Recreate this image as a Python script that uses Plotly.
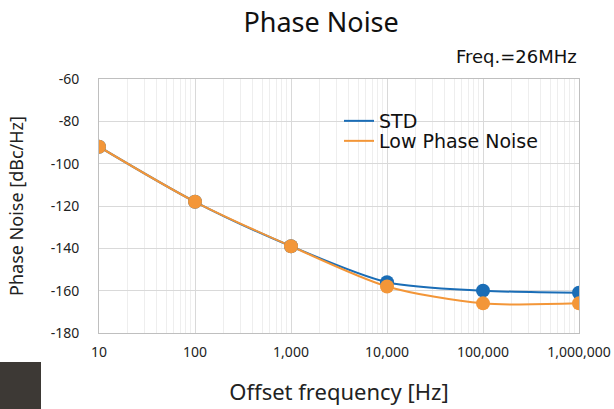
import plotly.graph_objects as go

freq = [10, 100, 1000, 10000, 100000, 1000000]
std_noise = [-92, -118, -139, -156, -160, -161]
low_noise = [-92, -118, -139, -158, -166, -166]
x_ticks = [10, 100, 1000, 10000, 100000, 1000000]
x_tick_labels = ["10", "100", "1,000", "10,000", "100,000", "1,000,000"]
y_ticks = [-60, -80, -100, -120, -140, -160, -180]
y_tick_labels = ["-60", "-80", "-100", "-120", "-140", "-160", "-180"]

BLUE = "#1a6db6"
ORANGE = "#f39638"
FONT = "Noto Sans"

fig = go.Figure()
for name, vals, col, lg in [("STD", std_noise, BLUE, "legend"),
                            ("Low Phase Noise", low_noise, ORANGE, "legend2")]:
    fig.add_trace(go.Scatter(x=freq, y=vals, mode="lines", name=name, legend=lg,
                             line=dict(color=col, width=2, shape="spline", smoothing=0.8)))
for vals, col in [(std_noise, BLUE), (low_noise, ORANGE)]:
    fig.add_trace(go.Scatter(x=freq, y=vals, mode="markers", showlegend=False,
                             marker=dict(color=col, size=14)))

leg_common = dict(x=0.50, xanchor="left", yanchor="middle", bgcolor="rgba(0,0,0,0)",
                  font=dict(size=19, family="DejaVu Sans", color="#111"), itemwidth=30)
fig.update_layout(
    width=614, height=409,
    margin=dict(l=99, r=35, t=79, b=76, autoexpand=False),
    paper_bgcolor="white", plot_bgcolor="white",
    font=dict(family=FONT, color="#222"),
    title=dict(text="Phase Noise", x=0.523, xanchor="center", y=0.945, yanchor="middle",
               font=dict(size=27, family=FONT, color="#111")),
    legend=dict(y=1 - (121 - 79) / 254, **leg_common),
    legend2=dict(y=1 - (141 - 79) / 254, **leg_common),
    showlegend=True,
)
fig.update_xaxes(type="log", range=[1, 6], tickvals=x_ticks, ticktext=x_tick_labels,
                 showgrid=True, gridcolor="#d9d9d9", gridwidth=1,
                 minor=dict(showgrid=True, gridcolor="#eeeeee", dtick="D1"),
                 showline=True, linecolor="#bfbfbf", linewidth=1, mirror=True,
                 ticks="", tickfont=dict(size=14, color="#222"), ticklabelstandoff=6,
                 automargin=False,
                 title=dict(text="Offset frequency [Hz]", font=dict(size=22, color="#222"), standoff=24),
                 zeroline=False)
fig.update_yaxes(range=[-180, -60], tickvals=y_ticks, ticktext=y_tick_labels, showgrid=True,
                 gridcolor="#d9d9d9",
                 showline=True, linecolor="#bfbfbf", linewidth=1, mirror=True,
                 ticks="", tickfont=dict(size=14, color="#222"), ticklabelstandoff=16,
                 automargin=False,
                 title=dict(text="Phase Noise [dBc/Hz]", font=dict(size=18, color="#222"), standoff=22),
                 zeroline=False)

fig.add_annotation(text="Freq.=26MHz", xref="paper", yref="paper", x=1.0, y=1.04,
                   xanchor="right", yanchor="bottom", showarrow=False,
                   font=dict(size=18, family="DejaVu Sans", color="#111"))
fig.add_shape(type="rect", xref="paper", yref="paper",
              x0=-99/480, x1=(41-99)/480, y0=-76/254, y1=(409-362-76)/254,
              fillcolor="#3d3935", line=dict(width=0), layer="above")

fig.write_html("out.html", config={"displayModeBar": False},
               post_script="document.body.style.margin='0px';")
